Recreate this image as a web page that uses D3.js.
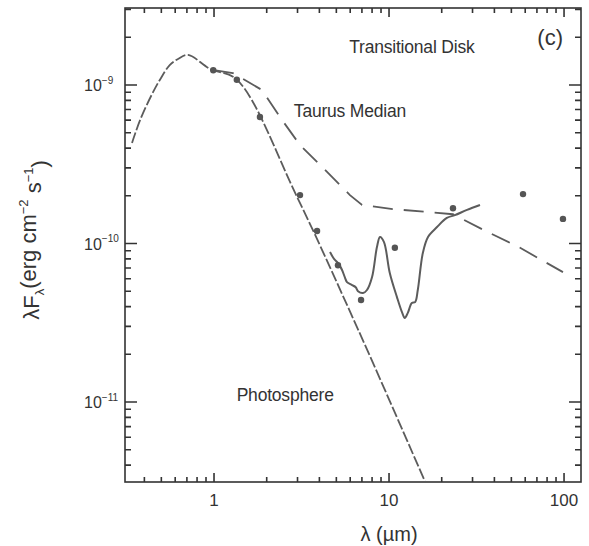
<!DOCTYPE html>
<html>
<head>
<meta charset="utf-8">
<script src="https://cdn.jsdelivr.net/npm/d3@7"></script>
<style>
  body { margin: 0; background: #fff; }
  svg { font-family: "Liberation Sans", Arial, sans-serif; }
</style>
</head>
<body>
<div id="chart"></div>
<script>
// photosphere model (long dashes)
const photoLam = [0.34, 0.378, 0.44, 0.491, 0.56, 0.623, 0.71, 0.95, 1.35, 2.98, 6.56, 16.1, 17.6];
const photoF   = [4.31e-10, 6.0e-10, 8.65e-10, 1.08e-9, 1.34e-9, 1.46e-9, 1.55e-9, 1.26e-9, 1.08e-9, 1.97e-10, 2.97e-11, 3.13e-12, 2.5e-12];

// Taurus median (dashed)
const taurusLam = [1.0, 1.28, 1.88, 2.38, 3.10, 4.31, 5.98, 7.01, 10.5, 23.2, 33.1, 56.1, 71.0, 98.6];
const taurusF   = [1.24e-9, 1.19e-9, 9.3e-10, 6.28e-10, 4.18e-10, 2.91e-10, 2.02e-10, 1.75e-10, 1.65e-10, 1.53e-10, 1.25e-10, 9.4e-11, 8.1e-11, 6.6e-11];

// IRS spectrum (solid)
const specLam = [4.60, 4.85, 5.11, 5.25, 5.39, 5.6, 5.75, 6.15, 6.45, 6.65, 7.10, 7.48, 8.0, 8.53, 8.88, 9.36, 10.1, 11.1, 11.9, 12.3, 12.8, 13.5, 14.1, 14.6, 15.6, 16.7, 18.8, 21.4, 23.8, 27.9, 33.1];
const specF   = [8.83e-11, 8.0e-11, 7.53e-11, 7.2e-11, 6.81e-11, 6.1e-11, 5.71e-11, 5.47e-11, 5.3e-11, 5.0e-11, 4.87e-11, 5.09e-11, 6.15e-11, 9.5e-11, 1.10e-10, 1.02e-10, 6.52e-11, 4.59e-11, 3.65e-11, 3.39e-11, 3.65e-11, 4.21e-11, 4.27e-11, 5.09e-11, 8.71e-11, 1.10e-10, 1.27e-10, 1.45e-10, 1.51e-10, 1.63e-10, 1.75e-10];

// photometry (dots)
const photLam = [0.99, 1.35, 1.83, 3.10, 3.88, 5.11, 6.92, 10.8, 23.2, 58.3, 98.6];
const photF   = [1.24e-9, 1.08e-9, 6.28e-10, 2.02e-10, 1.2e-10, 7.3e-11, 4.4e-11, 9.4e-11, 1.67e-10, 2.05e-10, 1.43e-10];

const xMajor = [1, 10, 100];
const yMajor = [1e-9, 1e-10, 1e-11];
const yExp = {"1e-9": "−9", "1e-10": "−10", "1e-11": "−11"};

const W = 589, H = 546;
const margin = {top: 8, right: 8, bottom: 64, left: 125};
const w = W - margin.left - margin.right;
const h = H - margin.top - margin.bottom;
const ink = '#333';
const lineCol = '#5c5c5c';

const x = d3.scaleLog().domain([0.31, 125]).range([0, w]);
const y = d3.scaleLog().domain([3.13e-12, 3.06e-9]).range([h, 0]);

const svg = d3.select('#chart').append('svg')
  .attr('width', W).attr('height', H);
const g = svg.append('g')
  .attr('transform', `translate(${margin.left}, ${margin.top})`);

// minor tick values
const xMinor = [];
[0.1, 1, 10].forEach(d => { for (let k = 2; k <= 9; k++) xMinor.push(d * k); });
const xMin = xMinor.filter(v => v > 0.31 && v < 125);
const yMinor = [];
[1e-12, 1e-11, 1e-10, 1e-9].forEach(d => { for (let k = 2; k <= 9; k++) yMinor.push(d * k); });
const yMin = yMinor.filter(v => v > 3.13e-12 && v < 3.06e-9);

// frame
g.append('rect').attr('width', w).attr('height', h)
  .attr('fill', 'none').attr('stroke', ink).attr('stroke-width', 1.6);

// inward ticks on all four sides, one path
let tickD = '';
xMin.forEach(v => { const p = x(v); tickD += `M${p},${h}V${h - 5}M${p},0V5`; });
xMajor.forEach(v => { const p = x(v); tickD += `M${p},${h}V${h - 9}M${p},0V9`; });
yMin.forEach(v => { const p = y(v); tickD += `M0,${p}H6M${w},${p}H${w - 6}`; });
yMajor.forEach(v => { const p = y(v); tickD += `M0,${p}H12M${w},${p}H${w - 12}`; });
g.append('path')
  .attr('class', 'ticks')
  .attr('d', tickD)
  .attr('fill', 'none')
  .attr('stroke', ink)
  .attr('stroke-width', 1.6);

// tick labels
g.selectAll('text.xl').data(xMajor).enter().append('text')
  .attr('class', 'xl')
  .attr('x', d => x(d)).attr('y', h + 24)
  .attr('text-anchor', 'middle').attr('font-size', 17).attr('fill', ink)
  .text(d3.format('d'));
g.selectAll('text.yl').data(yMajor).enter().append('text')
  .attr('class', 'yl')
  .attr('x', -41).attr('y', d => y(d)).attr('dy', '0.4em')
  .attr('font-size', 16).attr('fill', ink)
  .each(function(d) {
    const t = d3.select(this);
    t.append('tspan').text('10');
    t.append('tspan').attr('font-size', 10).attr('dy', '-0.75em').text(yExp[String(d)]);
  });

// clip for curves
g.append('clipPath').attr('id', 'clip')
  .append('rect').attr('width', w).attr('height', h);
const plot = g.append('g').attr('clip-path', 'url(#clip)');

plot.append('path')
  .datum(photoLam.map((l, i) => [l, photoF[i]]))
  .attr('d', d3.line().x(d => x(d[0])).y(d => y(d[1])).curve(d3.curveCatmullRom.alpha(0.5)))
  .attr('fill', 'none').attr('stroke', lineCol).attr('stroke-width', 1.8)
  .attr('stroke-dasharray', '11,2.5');

plot.append('path')
  .datum(taurusLam.map((l, i) => [l, taurusF[i]]))
  .attr('d', d3.line().x(d => x(d[0])).y(d => y(d[1])))
  .attr('fill', 'none').attr('stroke', lineCol).attr('stroke-width', 1.8)
  .attr('stroke-dasharray', '20,11');

plot.append('path')
  .datum(specLam.map((l, i) => [l, specF[i]]))
  .attr('d', d3.line().x(d => x(d[0])).y(d => y(d[1])).curve(d3.curveCatmullRom.alpha(0.5)))
  .attr('fill', 'none').attr('stroke', lineCol).attr('stroke-width', 2);

plot.selectAll('circle.dot')
  .data(photLam.map((l, i) => [l, photF[i]]))
  .enter().append('circle')
  .attr('class', 'dot')
  .attr('cx', d => x(d[0])).attr('cy', d => y(d[1]))
  .attr('r', 3.2).attr('fill', '#555');

// annotations
const ann = [
  {t: 'Transitional Disk', lam: 13.5, f: 1.74e-9},
  {t: 'Taurus Median', lam: 5.98, f: 6.86e-10},
  {t: 'Photosphere', lam: 2.55, f: 1.11e-11}
];
g.selectAll('text.ann').data(ann).enter().append('text')
  .attr('class', 'ann')
  .attr('x', d => x(d.lam)).attr('y', d => y(d.f))
  .attr('text-anchor', 'middle').attr('dy', '0.35em')
  .attr('font-size', 17.5).attr('fill', ink)
  .attr('letter-spacing', '-0.2')
  .text(d => d.t);
g.append('text')
  .attr('x', w - 18).attr('y', 37)
  .attr('text-anchor', 'end')
  .attr('font-size', 22).attr('fill', ink)
  .text('(c)');

// axis titles
svg.append('text')
  .attr('x', margin.left + x(10)).attr('y', 541)
  .attr('text-anchor', 'middle').attr('font-size', 20).attr('fill', ink)
  .text('λ (µm)');

const yt = svg.append('text')
  .attr('transform', `translate(39, 240) rotate(-90)`)
  .attr('text-anchor', 'middle').attr('font-size', 22).attr('fill', ink);
yt.append('tspan').text('λF');
yt.append('tspan').attr('font-size', 13).attr('dy', '0.35em').text('λ');
yt.append('tspan').attr('dy', '-0.35em').text('(erg cm');
yt.append('tspan').attr('font-size', 13).attr('dy', '-0.6em').text('−2');
yt.append('tspan').attr('dy', '0.6em').text(' s');
yt.append('tspan').attr('font-size', 13).attr('dy', '-0.6em').text('−1');
yt.append('tspan').attr('dy', '0.6em').text(')');
</script>
</body>
</html>
